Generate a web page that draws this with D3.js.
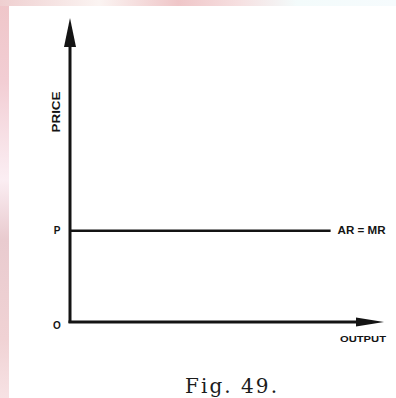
<!DOCTYPE html>
<html>
<head>
<meta charset="utf-8">
<script src="https://cdn.jsdelivr.net/npm/d3@7"></script>
<style>
  html, body { margin: 0; padding: 0; background: #fff; }
  svg { display: block; }
</style>
</head>
<body>
<svg id="chart" width="396" height="398"></svg>
<script>
// ---- data ----
const axisTitles = ["PRICE", "OUTPUT"];
const originLabel = ["O"];
const priceLabels = ["P"];
const priceLevels = [3];            // P on the price axis
const outputExtent = [0, 8.3];      // AR = MR line runs from O to here
const lineLabels = ["AR = MR"];
const caption = ["Fig. 49."];
const xDomain = [0, 10];
const yDomain = [0, 10];

// ---- layout ----
const W = 396, H = 398;
const svg = d3.select("#chart");
const x = d3.scaleLinear().domain(xDomain).range([70, 384]);
const y = d3.scaleLinear().domain(yDomain).range([322, 18]);
const ink = "#141414";

// scanned-page pink edges
const defs = svg.append("defs");
const gl = defs.append("linearGradient").attr("id", "leftEdge").attr("x1", 0).attr("y1", 0).attr("x2", 0).attr("y2", 1);
[[0, "#efc6c9"], [0.2, "#f2cdd3"], [0.45, "#fbeef3"], [0.6, "#e9cbcf"], [0.85, "#f0d2d4"], [1, "#f7e2e4"]]
  .forEach(([o, c]) => gl.append("stop").attr("offset", o).attr("stop-color", c));
const gt = defs.append("linearGradient").attr("id", "topEdge").attr("x1", 0).attr("y1", 0).attr("x2", 1).attr("y2", 0);
[[0, "#efcfd0"], [0.25, "#fbf4f2"], [0.45, "#efc6c8"], [0.6, "#f6dfe0"], [0.75, "#f3fbfb"], [1, "#f6fbfd"]]
  .forEach(([o, c]) => gt.append("stop").attr("offset", o).attr("stop-color", c));
svg.append("rect").attr("width", W).attr("height", H).attr("fill", "#fff");
svg.append("rect").attr("x", 0).attr("y", 0).attr("width", 9).attr("height", H).attr("fill", "url(#leftEdge)");
svg.append("rect").attr("x", 0).attr("y", 0).attr("width", W).attr("height", 6).attr("fill", "url(#topEdge)");

// ---- axes ----
const g = svg.append("g");
// y axis
g.append("line")
  .attr("x1", x(0)).attr("y1", y(0) + 1)
  .attr("x2", x(0)).attr("y2", y(yDomain[1]) + 20)
  .attr("stroke", ink).attr("stroke-width", 3);
g.append("path")
  .attr("d", d3.line()([[x(0), y(yDomain[1])], [x(0) + 6, y(yDomain[1]) + 29], [x(0) - 6, y(yDomain[1]) + 29]]) + "Z")
  .attr("fill", ink);
// x axis
g.append("line")
  .attr("x1", x(0) - 1.5).attr("y1", y(0))
  .attr("x2", x(xDomain[1]) - 20).attr("y2", y(0))
  .attr("stroke", ink).attr("stroke-width", 3);
g.append("path")
  .attr("d", d3.line()([[x(xDomain[1]), y(0)], [x(xDomain[1]) - 28, y(0) - 4.5], [x(xDomain[1]) - 28, y(0) + 4.5]]) + "Z")
  .attr("fill", ink);

// AR = MR line
g.selectAll(".arline").data(priceLevels).join("line")
  .attr("class", "arline")
  .attr("x1", x(outputExtent[0])).attr("x2", x(outputExtent[1]))
  .attr("y1", d => y(d)).attr("y2", d => y(d))
  .attr("stroke", ink).attr("stroke-width", 2.5);

// ---- labels ----
const bold = "'Liberation Sans', Arial, sans-serif";
g.selectAll(".plabel").data(priceLevels).join("text")
  .attr("class", "plabel")
  .attr("x", x(0) - 13).attr("y", d => y(d))
  .attr("dy", "0.35em").attr("text-anchor", "middle")
  .attr("font-family", bold).attr("font-weight", "bold").attr("font-size", 10)
  .attr("fill", ink).text((d, i) => priceLabels[i]);

g.append("text")
  .attr("x", x(0) - 13).attr("y", y(0) + 3)
  .attr("dy", "0.35em").attr("text-anchor", "middle")
  .attr("font-family", bold).attr("font-weight", "bold").attr("font-size", 10)
  .attr("fill", ink).text(originLabel[0]);

g.selectAll(".arlabel").data(priceLevels).join("text")
  .attr("class", "arlabel")
  .attr("x", x(outputExtent[1]) + 7).attr("y", d => y(d))
  .attr("dy", "0.35em")
  .attr("font-family", bold).attr("font-weight", "bold").attr("font-size", 10)
  .attr("textLength", 48).attr("lengthAdjust", "spacingAndGlyphs")
  .attr("fill", ink).text(lineLabels[0]);

// PRICE (rotated)
g.append("text")
  .attr("transform", `translate(${x(0) - 14},112) rotate(-90)`)
  .attr("text-anchor", "middle").attr("dy", "0.35em")
  .attr("font-family", bold).attr("font-weight", "bold").attr("font-size", 11)
  .attr("textLength", 41).attr("lengthAdjust", "spacingAndGlyphs")
  .attr("fill", ink).text(axisTitles[0]);

// OUTPUT
g.append("text")
  .attr("x", 340).attr("y", y(0) + 17)
  .attr("dy", "0.35em")
  .attr("font-family", bold).attr("font-weight", "bold").attr("font-size", 9)
  .attr("textLength", 46).attr("lengthAdjust", "spacingAndGlyphs")
  .attr("fill", ink).text(axisTitles[1]);

// caption
svg.append("text")
  .attr("x", 185).attr("y", 393)
  .attr("font-family", "'DejaVu Serif', serif").attr("font-size", 20)
  .attr("textLength", 92).attr("lengthAdjust", "spacing")
  .attr("fill", "#1c1c1c").text(caption[0]);
</script>
</body>
</html>
